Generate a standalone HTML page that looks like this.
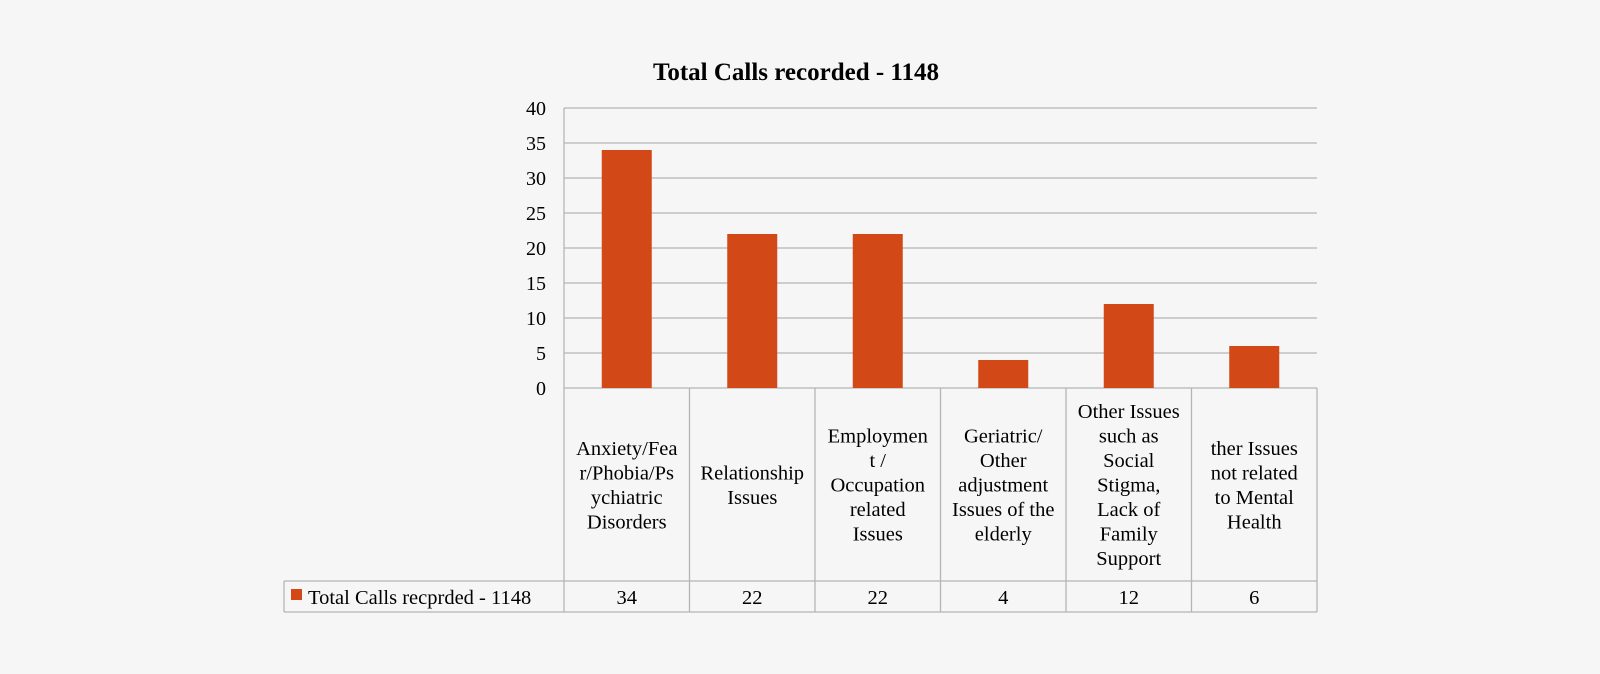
<!DOCTYPE html>
<html><head><meta charset="utf-8"><style>
body{margin:0;background:#f6f6f6;}
svg{display:block;font-family:"Liberation Serif",serif;}
</style></head><body>
<svg width="1600" height="674">
<text x="796" y="80" text-anchor="middle" font-size="25" font-weight="bold" fill="#000">Total Calls recorded - 1148</text>
<g id="g"></g>
</svg>
<script>
const categories=[["Anxiety/Fea","r/Phobia/Ps","ychiatric","Disorders"],["Relationship","Issues"],["Employmen","t /","Occupation","related","Issues"],["Geriatric/","Other","adjustment","Issues of the","elderly"],["Other Issues","such as","Social","Stigma,","Lack of","Family","Support"],["ther Issues","not related","to Mental","Health"]];
const values=[34,22,22,4,12,6];
const ticks=[0,5,10,15,20,25,30,35,40];
const seriesName="Total Calls recprded - 1148";
const NS="http://www.w3.org/2000/svg";
const g=document.getElementById('g');
const L=564,R=1317,T=108,B=388,maxV=40;
const cw=(R-L)/values.length;
const y=v=>B-(v/maxV)*(B-T);
const x=i=>L+i*cw;
function mk(t,a,p){const e=document.createElementNS(NS,t);for(const k in a)e.setAttribute(k,a[k]);(p||g).appendChild(e);return e;}
ticks.forEach(t=>{
 const ln=mk('line',{x1:L,x2:R,y1:y(t),y2:y(t),stroke:'#b5b5b5','stroke-width':1.3});
 
 
 const tx=mk('text',{x:546,y:y(t)+7,'text-anchor':'end','font-size':20});
 tx.textContent=t;
 
 
});
mk('line',{x1:L,x2:L,y1:T,y2:B,stroke:'#b5b5b5','stroke-width':1.3});
values.forEach((v,i)=>{
 const r=mk('rect',{x:x(i)+cw/2-25,y:y(v),width:50,height:B-y(v),fill:'#d24816'});
 
 
});
// table
const rowY=581,botY=612;
mk('line',{x1:284,x2:R,y1:rowY,y2:rowY,stroke:'#b5b5b5','stroke-width':1.3});
mk('line',{x1:284,x2:R,y1:botY,y2:botY,stroke:'#b5b5b5','stroke-width':1.3});
mk('line',{x1:284,x2:284,y1:rowY,y2:botY,stroke:'#b5b5b5','stroke-width':1.3});
for(let i=0;i<=values.length;i++){mk('line',{x1:x(i),x2:x(i),y1:B,y2:botY,stroke:'#b5b5b5','stroke-width':1.3});}
categories.forEach((lines,i)=>{
 const cx=x(i)+cw/2, lh=24.5, mid=(B+rowY)/2+7;
 const t=mk('text',{'text-anchor':'middle','font-size':20.5});
 
 
 lines.forEach((s,j)=>{const ts=mk('tspan',{x:cx,y:mid+(j-(lines.length-1)/2)*lh},t);ts.textContent=s;});
 const d=mk('text',{x:cx,y:604,'text-anchor':'middle','font-size':20.5});
 d.textContent=values[i];
 
 
});
const lk=mk('rect',{x:291,y:589,width:11,height:11,fill:'#d24816'});


const lt=mk('text',{x:308,y:604,'font-size':20.5});
lt.textContent=seriesName;


</script>
</body></html>
